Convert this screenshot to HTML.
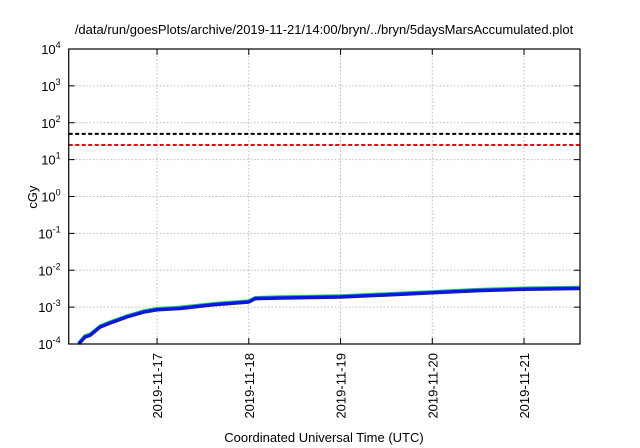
<!DOCTYPE html>
<html><head><meta charset="utf-8"><style>
body{margin:0;background:#fff;}
svg{display:block;font-family:"Liberation Sans",sans-serif;}
</style></head><body>
<svg id="chart" width="640" height="448" viewBox="0 0 640 448">
<text x="324" y="34" font-size="13" text-anchor="middle">/data/run/goesPlots/archive/2019-11-21/14:00/bryn/../bryn/5daysMarsAccumulated.plot</text>
<text transform="translate(37,197) rotate(-90)" font-size="13" text-anchor="middle">cGy</text>
<text x="324" y="442" font-size="13" text-anchor="middle">Coordinated Universal Time (UTC)</text>
<g id="grid"></g>
<g id="axes"></g>
<g id="series"></g>
<rect x="68.7" y="49" width="511.3" height="295" fill="none" stroke="#000" stroke-width="1.2"/>
</svg>
<script>
const dayTicks = [17, 18, 19, 20, 21];
const dayTickLabels = ["2019-11-17", "2019-11-18", "2019-11-19", "2019-11-20", "2019-11-21"];
const yExponents = [-4, -3, -2, -1, 0, 1, 2, 3, 4];
const thresholds = [50, 25];
const thresholdColors = ["#000", "#f00"];
const days = [16.146, 16.215, 16.27, 16.38, 16.49, 16.67, 16.85, 17.0, 17.25, 17.6, 18.0, 18.07, 18.3, 19.0, 19.7, 20.0, 20.5, 21.0, 21.61];
const blueVals = [1.0e-4, 1.55e-4, 1.72e-4, 2.9e-4, 3.7e-4, 5.4e-4, 7.3e-4, 8.5e-4, 9.2e-4, 1.15e-3, 1.38e-3, 1.7e-3, 1.75e-3, 1.88e-3, 2.25e-3, 2.45e-3, 2.8e-3, 3.05e-3, 3.2e-3];
const greenVals = [1.08e-4, 1.68e-4, 1.86e-4, 3.1e-4, 4.0e-4, 5.8e-4, 7.9e-4, 9.2e-4, 1.0e-3, 1.24e-3, 1.48e-3, 1.83e-3, 1.89e-3, 2.03e-3, 2.43e-3, 2.64e-3, 3.02e-3, 3.3e-3, 3.46e-3];

const L=68.7,R=580,T=49,B=344;
const d0=16.037,d1=21.61;
const xS=d=>L+(d-d0)/(d1-d0)*(R-L);
const yS=v=>B-(Math.log10(v)+4)/8*(B-T);
const NS="http://www.w3.org/2000/svg";
function mk(tag,attrs,parent){const e=document.createElementNS(NS,tag);for(const k in attrs)e.setAttribute(k,attrs[k]);parent.appendChild(e);return e;}
const grid=document.getElementById('grid'),axes=document.getElementById('axes'),series=document.getElementById('series');
yExponents.forEach(p=>{
  const y=yS(Math.pow(10,p));
  if(p>-4&&p<4){const g=mk('line',{x1:L,x2:R,y1:y,y2:y,stroke:'#bbb','stroke-dasharray':'1.5,2','stroke-width':1},grid);
  
  }
  [L,R].forEach((x,i)=>{const t=mk('line',{x1:x,x2:x+(i?-6:6),y1:y,y2:y,stroke:'#000'},axes);
  
  });
  const tx=mk('text',{x:L-8,y:y+5,'font-size':13,'text-anchor':'end'},axes);
  
  
  tx.textContent='10';
  const s=mk('tspan',{dy:-6,'font-size':9},tx);s.textContent=String(p);
});
dayTicks.forEach((d,i)=>{
  const x=xS(d);
  const g=mk('line',{x1:x,x2:x,y1:T,y2:B,stroke:'#bbb','stroke-dasharray':'1.5,2'},grid);
  
  
  [B,T].forEach((y,j)=>{const t=mk('line',{x1:x,x2:x,y1:y,y2:y+(j?6:-6),stroke:'#000'},axes);
  
  });
  const tx=mk('text',{transform:`translate(${x+5},${B+9}) rotate(-90)`,'font-size':13,'text-anchor':'end'},axes);
  
  
  tx.textContent=dayTickLabels[i];
});
thresholds.forEach((v,i)=>{
  const y=yS(v);
  const l=mk('line',{x1:L,x2:R,y1:y,y2:y,stroke:thresholdColors[i],'stroke-width':2,'stroke-dasharray':'4,2.5'},series);
  
  
});
function line(vals,color,w,name){
  const p=mk('polyline',{points:days.map((d,i)=>xS(d)+','+Math.min(B,yS(vals[i]))).join(' '),fill:'none',stroke:color,'stroke-width':w,'stroke-linejoin':'round'},series);
  
  
}
line(greenVals,'#1ec81e',3,'green-series');
line(blueVals,'#0a14f0',3.5,'blue-series');
</script>
</body></html>
